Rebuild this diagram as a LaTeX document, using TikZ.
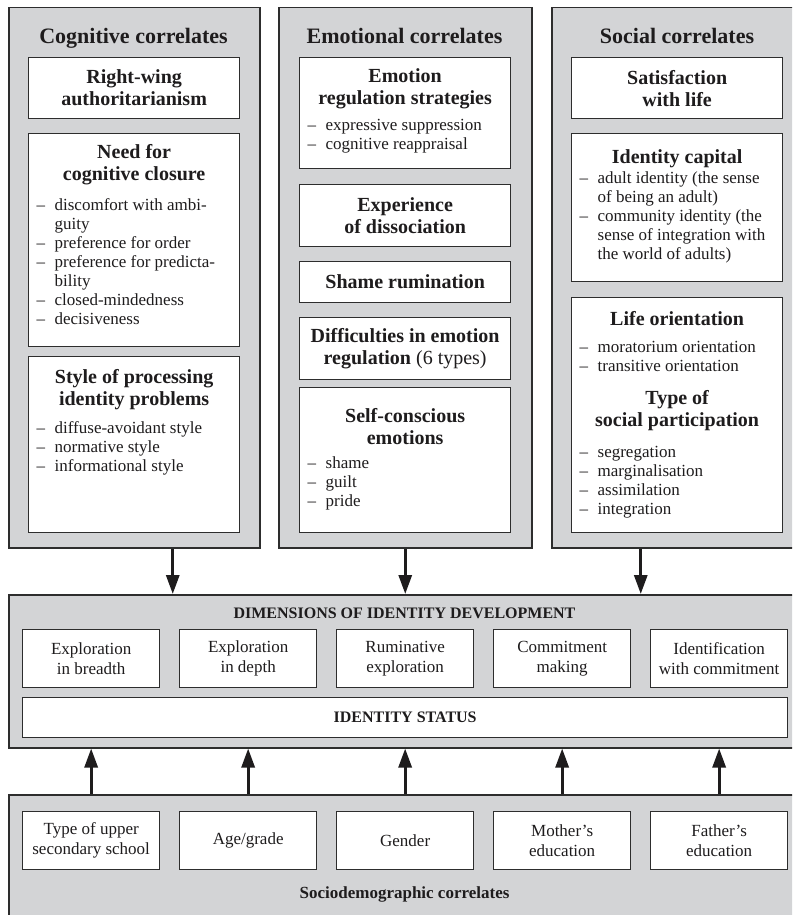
\documentclass[tikz,border=0pt]{standalone}
\usepackage{fontspec}
\setmainfont{Liberation Serif}
\usetikzlibrary{arrows.meta}

\definecolor{panelgray}{RGB}{211,212,214}
\definecolor{edgegray}{RGB}{45,45,45}
\definecolor{inkblack}{RGB}{30,28,29}

% bold heading inside a card (first line carries a strut so its baseline is predictable)
\newcommand\cardhead[1]{{\fontsize{20}{22}\selectfont\bfseries\centering\strut#1\par}}
% bold heading centred vertically in a small card
\newcommand\cardcenter[1]{{\fontsize{20}{22}\selectfont\bfseries\centering#1\par}}
% one dashed list entry with hanging indent
\newcommand\listline[1]{{\fontsize{17}{19}\selectfont\raggedright\hangindent=18pt\hangafter=1\noindent\makebox[18pt][l]{\textendash}#1\par}}
% card contents: height, baseline of first heading line below the top, body
\newcommand\cardbody[3]{\parbox[c][#1][t]{195pt}{\vspace*{\dimexpr#2-15.4pt\relax}#3}}
\newcommand\cardmid[2]{\parbox[c][#1][c]{195pt}{\cardcenter{#2}}}

\tikzset{
  panel/.style={draw=edgegray, fill=panelgray, line width=1.5pt, anchor=north west, inner sep=0pt},
  card/.style={draw=edgegray, fill=white, line width=1.3pt, anchor=north west, inner xsep=8pt, inner ysep=0pt, text=inkblack},
  smallcard/.style={draw=edgegray, fill=white, line width=1.3pt, anchor=north west,
    minimum width=137pt, minimum height=58pt, align=center, inner sep=2pt,
    font=\fontsize{17}{20}\selectfont, text=inkblack},
  paneltitle/.style={anchor=base, text=inkblack, font=\fontsize{22}{24}\selectfont\bfseries},
  captitle/.style={anchor=base, text=inkblack, font=\fontsize{16}{18}\selectfont\bfseries},
  arr/.style={line width=3pt, draw=inkblack, -{Triangle[width=13pt,length=19pt]}},
}

\begin{document}
\begin{tikzpicture}[x=1pt, y=-1pt]
\clip (0,0) rectangle (792,915);
\fill[white] (0,0) rectangle (792,915);

% ---------- cognitive correlates ----------
\node[panel, minimum width=251pt, minimum height=540pt] (cog) at (8,7) {};
\node[paneltitle] (cogt) at (133.5,44) {Cognitive correlates};
\node[card] (rwa) at (28,57) {\cardmid{61pt}{Right-wing\\authoritarianism}};
\node[card] (ncc) at (28,133) {\cardbody{213pt}{25pt}{%
  \cardhead{Need for\\cognitive closure}\vspace{11pt}%
  \listline{discomfort with ambi-\newline guity}%
  \listline{preference for order}%
  \listline{preference for predicta-\newline bility}%
  \listline{closed-mindedness}%
  \listline{decisiveness}}};
\node[card] (spip) at (28,356) {\cardbody{176pt}{27pt}{%
  \cardhead{Style of processing\\identity problems}\vspace{9pt}%
  \listline{diffuse-avoidant style}%
  \listline{normative style}%
  \listline{informational style}}};

% ---------- emotional correlates ----------
\node[panel, minimum width=253pt, minimum height=540pt] (emo) at (278,7) {};
\node[paneltitle] (emot) at (404.5,44) {Emotional correlates};
\node[card] (ers) at (299,57) {\cardbody{111pt}{25pt}{%
  \cardhead{Emotion\\regulation strategies}\vspace{7pt}%
  \listline{expressive suppression}%
  \listline{cognitive reappraisal}}};
\node[card] (eod) at (299,184) {\cardmid{62pt}{Experience\\of dissociation}};
\node[card] (shr) at (299,261) {\cardmid{41pt}{Shame rumination}};
\node[card] (der) at (299,317) {\cardmid{62pt}{Difficulties in emotion\\regulation {\mdseries(6 types)}}};
\node[card] (sce) at (299,387) {\cardbody{145pt}{35pt}{%
  \cardhead{Self-conscious\\emotions}\vspace{5pt}%
  \listline{shame}%
  \listline{guilt}%
  \listline{pride}}};

% ---------- social correlates ----------
\node[panel, minimum width=251pt, minimum height=540pt] (soc) at (551,7) {};
\node[paneltitle] (soct) at (677,44) {Social correlates};
\node[card] (swl) at (571,57) {\cardmid{61pt}{Satisfaction\\with life}};
\node[card] (idc) at (571,133) {\cardbody{148pt}{30pt}{%
  \cardhead{Identity capital}\vspace{1pt}%
  \listline{adult identity (the sense\newline of being an adult)}%
  \listline{community identity (the\newline sense of integration with\newline the world of adults)}}};
\node[card] (lor) at (571,297) {\cardbody{235pt}{28pt}{%
  \cardhead{Life orientation}\vspace{8pt}%
  \listline{moratorium orientation}%
  \listline{transitive orientation}%
  \vspace{11pt}\cardhead{Type of\\social participation}\vspace{12pt}%
  \listline{segregation}%
  \listline{marginalisation}%
  \listline{assimilation}%
  \listline{integration}}};

% ---------- dimensions of identity development ----------
\node[panel, minimum width=793pt, minimum height=153pt] (dim) at (8,594) {};
\node[captitle] (dimt) at (404.5,618) {DIMENSIONS OF IDENTITY DEVELOPMENT};
\node[smallcard] (d1) at (22,629) {Exploration\\in breadth};
\node[smallcard] (d2) at (179,629) {Exploration\\in depth};
\node[smallcard] (d3) at (336,629) {Ruminative\\exploration};
\node[smallcard] (d4) at (493,629) {Commitment\\making};
\node[smallcard] (d5) at (650,629) {Identification\\with commitment};
\node[draw=edgegray, fill=white, line width=1.3pt, anchor=north west, minimum width=765pt,
      minimum height=40pt, inner sep=0pt, text=inkblack, font=\fontsize{16}{18}\selectfont\bfseries]
      (ids) at (22,697) {IDENTITY STATUS};

% ---------- sociodemographic correlates ----------
\node[panel, minimum width=793pt, minimum height=131pt] (sdc) at (8,794) {};
\node[smallcard] (s1) at (22,811) {Type of upper\\secondary school};
\node[smallcard] (s2) at (179,811) {Age/grade};
\node[smallcard] (s3) at (336,811) {Gender};
\node[smallcard] (s4) at (493,811) {Mother’s\\education};
\node[smallcard] (s5) at (650,811) {Father’s\\education};
\node[anchor=base, text=inkblack, font=\fontsize{17}{19}\selectfont\bfseries] (sdct) at (404.5,898) {Sociodemographic correlates};

% ---------- arrows ----------
\draw[arr] ([xshift=38.5pt]cog.south) -- ([xshift=38.5pt]cog.south |- dim.north);
\draw[arr] (emo.south) -- (emo.south |- dim.north);
\draw[arr] ([xshift=-36.5pt]soc.south) -- ([xshift=-36.5pt]soc.south |- dim.north);
\foreach \n in {s1,s2,s3,s4,s5}
  \draw[arr] (\n.north |- sdc.north) -- (\n.north |- dim.south);
\end{tikzpicture}
\end{document}
